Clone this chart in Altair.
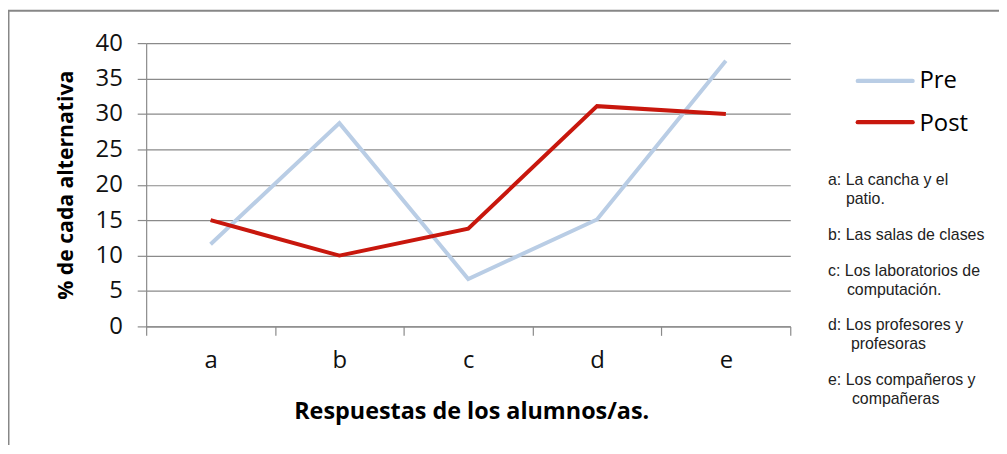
import altair as alt
import pandas as pd

# ---- data ----
categories = ["a", "b", "c", "d", "e"]
pre_values = [11.6, 28.7, 6.7, 15.1, 37.5]
post_values = [15.0, 10.0, 13.8, 31.1, 30.0]
series_names = ["Pre", "Post"]
series_colors = ["#B9CDE5", "#C8170D"]
y_ticks = [0, 5, 10, 15, 20, 25, 30, 35, 40]
x_title = "Respuestas de los alumnos/as."
y_title = "% de cada alternativa"
notes = [
    ["a: La cancha y el", "patio."],
    ["b: Las salas de clases"],
    ["c: Los laboratorios de", "computación."],
    ["d: Los profesores y", "profesoras"],
    ["e: Los compañeros y", "compañeras"],
]

# ---- layout (pixels relative to plot area) ----
W, H = 648, 285
GRAY = "#8a8a8a"
note_first_x = 686
note_cont_x = [704, 0, 705, 709, 710]
note_y = [[143, 162], [198], [234, 253], [289, 308], [344, 363]]
legend_rule_y = [38, 79.5]
legend_text_y = [45.5, 88.5]

df = pd.DataFrame({
    "cat": categories * 2,
    "serie": [series_names[0]] * len(categories) + [series_names[1]] * len(categories),
    "val": pre_values + post_values,
})

color_scale = alt.Scale(domain=series_names, range=series_colors)

lines = alt.Chart(df).mark_line(strokeWidth=4, strokeCap="butt", strokeJoin="miter").encode(
    x=alt.X(
        "cat:N",
        sort=categories,
        scale=alt.Scale(type="band", paddingInner=0, paddingOuter=0),
        bandPosition=0.5,
        axis=alt.Axis(
            title=x_title,
            labelAngle=0,
            tickBand="extent",
            tickSize=9,
            tickColor=GRAY,
            tickWidth=1.2,
            domainColor=GRAY,
            domainWidth=1.2,
            grid=False,
            labelFont="Open Sans",
            labelFontSize=24,
            labelColor="#111111",
            labelPadding=13,
            titleFont="Open Sans",
            titleFontSize=23.5,
            titleFontWeight="bold",
            titleColor="#000000",
            titleX=W / 2 + 3,
            titleY=93,
            titleAlign="center",
            titleBaseline="alphabetic",
        ),
    ),
    y=alt.Y(
        "val:Q",
        scale=alt.Scale(domain=[0, 40], nice=False),
        axis=alt.Axis(
            title=y_title,
            values=y_ticks,
            tickSize=9,
            tickColor=GRAY,
            tickWidth=1.2,
            domainColor=GRAY,
            domainWidth=1.2,
            grid=True,
            gridColor=GRAY,
            gridWidth=1.2,
            labelFont="Open Sans",
            labelFontSize=24,
            labelColor="#111111",
            labelPadding=15,
            titleFont="Open Sans",
            titleFontSize=21.3,
            titleFontWeight="bold",
            titleColor="#000000",
            titleAngle=270,
            titleX=-74,
            titleY=H / 2,
            titleAlign="center",
            titleBaseline="alphabetic",
        ),
    ),
    color=alt.Color("serie:N", scale=color_scale, legend=None),
)

layers = [lines]

# manual legend
for i, name in enumerate(series_names):
    ldf = pd.DataFrame({"serie": [name]})
    layers.append(
        alt.Chart(ldf).mark_rule(strokeWidth=4.5, strokeCap="round").encode(
            x=alt.value(716), x2=alt.value(771), y=alt.value(legend_rule_y[i]),
            color=alt.Color("serie:N", scale=color_scale, legend=None),
        )
    )
    layers.append(
        alt.Chart(ldf).mark_text(align="left", baseline="alphabetic", font="Open Sans",
                                 fontSize=24, color="#000000").encode(
            x=alt.value(778), y=alt.value(legend_text_y[i]), text="serie:N",
        )
    )

# notes
for i, item in enumerate(notes):
    for j, line in enumerate(item):
        ndf = pd.DataFrame({"t": [line]})
        layers.append(
            alt.Chart(ndf).mark_text(align="left", baseline="alphabetic",
                                     font="Liberation Sans", fontSize=16,
                                     color="#222222").encode(
                x=alt.value(note_first_x if j == 0 else note_cont_x[i]),
                y=alt.value(note_y[i][j]),
                text="t:N",
            )
        )

# outer border (top and left)
bdf = pd.DataFrame({"k": [0]})
layers.append(
    alt.Chart(bdf).mark_rule(color="#878787", strokeWidth=2).encode(
        x=alt.value(-139), x2=alt.value(870), y=alt.value(-32.5),
    )
)
layers.append(
    alt.Chart(bdf).mark_rule(color="#878787", strokeWidth=2).encode(
        x=alt.value(-138.5), y=alt.value(-33), y2=alt.value(430),
    )
)

chart = alt.layer(*layers).properties(
    width=W,
    height=H,
    padding={"left": 139, "top": 34, "right": 210, "bottom": 118},
    autosize=alt.AutoSizeParams(type="none"),
    background="#ffffff",
).configure_view(stroke=None)

chart.save("out.html", embed_options={"renderer": "svg", "actions": False})
